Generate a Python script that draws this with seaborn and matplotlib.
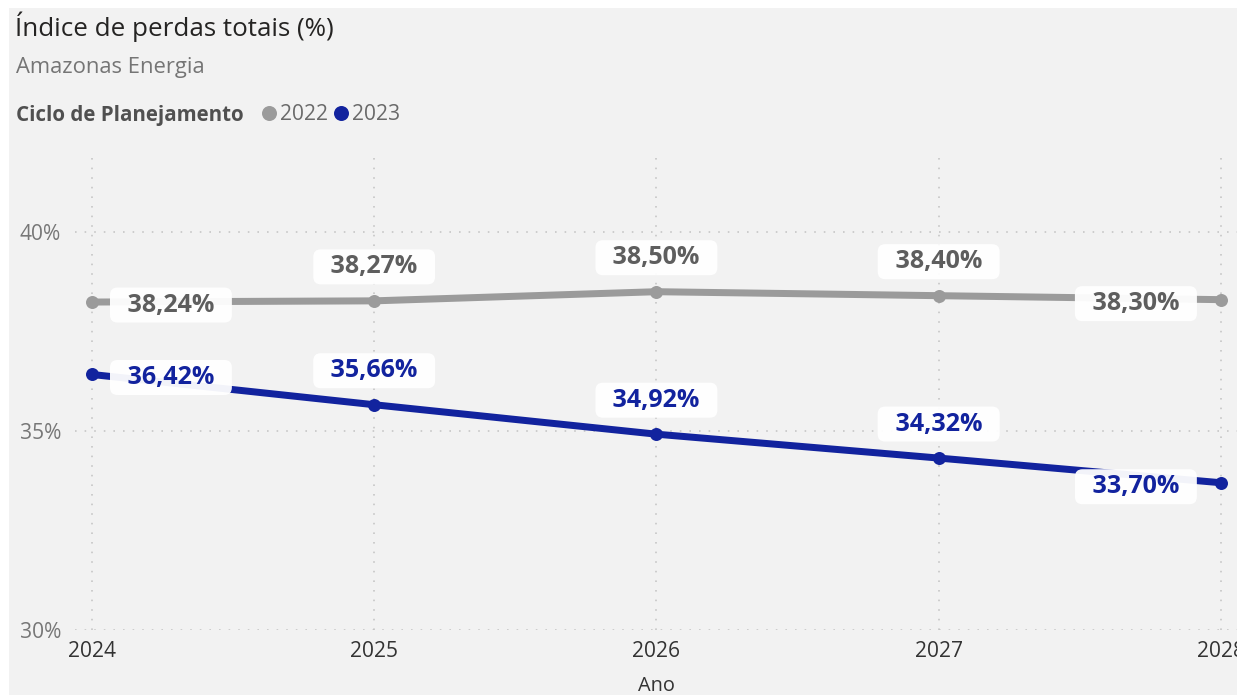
import matplotlib
matplotlib.use("Agg")
import matplotlib.pyplot as plt
from matplotlib.lines import Line2D
from matplotlib.patches import Rectangle
import seaborn as sns
import pandas as pd

# Total loss index (%) per year, one series per planning cycle
anos = [2024, 2025, 2026, 2027, 2028]
ciclo_2022 = [38.24, 38.27, 38.50, 38.40, 38.30]
ciclo_2023 = [36.42, 35.66, 34.92, 34.32, 33.70]
ciclos = ["2022", "2023"]
y_ticks = [30, 35, 40]

cores = {"2022": "#9b9b9b", "2023": "#12239e"}
cores_texto = {"2022": "#5e5e5e", "2023": "#12239e"}
BG = "#f2f2f2"

df = pd.DataFrame({
    "Ano": anos * 2,
    "Perdas": ciclo_2022 + ciclo_2023,
    "Ciclo": [ciclos[0]] * len(anos) + [ciclos[1]] * len(anos),
})

sns.set_theme(style="white")
plt.rcParams["font.family"] = ["Open Sans", "DejaVu Sans"]

W, H, DPI = 1237, 695, 72
fig = plt.figure(figsize=(W / DPI, H / DPI), dpi=DPI, facecolor=BG)

def fx(px):
    return px / W

def fy(py):
    return 1 - py / H

# plot area
left, right, bottom, top = 75, 1237, 630, 152.4
ax = fig.add_axes([fx(left), fy(bottom), fx(right - left), fy(top) - fy(bottom)])
ax.set_facecolor(BG)

sns.lineplot(data=df, x="Ano", y="Perdas", hue="Ciclo", palette=cores,
             linewidth=7, marker="o", markersize=13, markeredgewidth=0,
             legend=False, ax=ax, zorder=3)

ax.set_xlim(2023.94, 2028.057)
ax.set_ylim(30, 42)
ax.set_xticks(anos)
ax.set_xticklabels([str(a) for a in anos], fontsize=21, color="#333333")
ax.set_yticks(y_ticks)
ax.set_yticklabels([f"{t}%" for t in y_ticks], fontsize=21, color="#777777")
ax.tick_params(axis="both", length=0)
ax.tick_params(axis="x", pad=11)
ax.tick_params(axis="y", pad=14)
ax.grid(True, color="#c4c4c4", linestyle=(0, (1, 5)), linewidth=1.6)
for s in ax.spines.values():
    s.set_visible(False)
ax.set_xlabel("Ano", fontsize=20, color="#333333", labelpad=14)
ax.set_ylabel("")

# value labels in white rounded boxes
series = {"2022": ciclo_2022, "2023": ciclo_2023}
for ciclo, vals in series.items():
    for i, (a, v) in enumerate(zip(anos, vals)):
        txt = "\u2002" + f"{v:.2f}".replace(".", ",") + "%" + "\u2002"
        if i == 0:
            off = (79, -3)
        elif i == len(anos) - 1:
            off = (-85, -4)
        else:
            off = (0, 34)
        ax.annotate(txt, xy=(a, v), xytext=off, textcoords="offset points",
                    ha="center", va="center", fontsize=25, fontweight="bold",
                    color=cores_texto[ciclo], zorder=5, annotation_clip=False,
                    bbox=dict(boxstyle="round,pad=0.2,rounding_size=0.3",
                              fc="white", ec="none", alpha=0.95))

# titles
fig.text(fx(15), fy(27), "Índice de perdas totais (%)", fontsize=26,
         color="#252423", ha="left", va="center")
fig.text(fx(16), fy(67), "Amazonas Energia", fontsize=22,
         color="#757575", ha="left", va="center")

# legend row
fig.text(fx(16), fy(115), "Ciclo de Planejamento", fontsize=20.5,
         fontweight="bold", color="#505050", ha="left", va="center")
handles = [Line2D([], [], linestyle="none", marker="o", markersize=15,
                  markeredgewidth=0, color=cores[c]) for c in ciclos]
fig.legend(handles, ciclos, loc="center left", bbox_to_anchor=(fx(263), fy(115)),
           ncol=2, frameon=False, fontsize=21, labelcolor="#6a6a6a",
           handlelength=0.6, handletextpad=0.2, columnspacing=0.35,
           borderpad=0, borderaxespad=0)

# white frame along the top and left edges
fig.add_artist(Rectangle((0, fy(8)), 1, 1 - fy(8), transform=fig.transFigure,
                         fc="white", ec="none", zorder=10))
fig.add_artist(Rectangle((0, 0), fx(9), 1, transform=fig.transFigure,
                         fc="white", ec="none", zorder=10))

fig.savefig("out.png", dpi=DPI, facecolor=BG)
